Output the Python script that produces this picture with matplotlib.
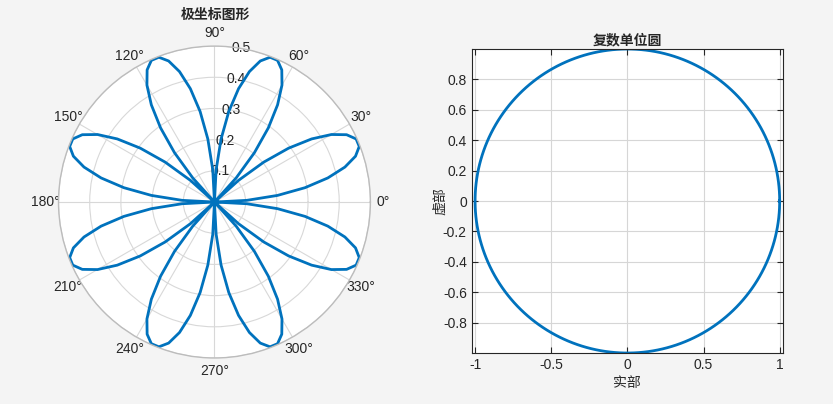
"""
Polar rose and complex unit circle, side by side.
"""

import numpy as np
import matplotlib.pyplot as plt

plt.rcParams['font.family'] = ['Liberation Sans', 'Noto Sans CJK SC', 'DejaVu Sans']
plt.rcParams['axes.unicode_minus'] = False

# left panel: 8-petal rose, coarse sampling as in the source
rose_samples = 121
rose_amp = 0.5
rose_k = 4
r_ticks = [0.1, 0.2, 0.3, 0.4, 0.5]
theta_ticks = [0, 30, 60, 90, 120, 150, 180, 210, 240, 270, 300, 330]

# right panel: unit circle exp(i*t)
circle_samples = 400
x_ticks = [-1, -0.5, 0, 0.5, 1]
x_labels = ['-1', '-0.5', '0', '0.5', '1']
y_ticks = [-0.8, -0.6, -0.4, -0.2, 0, 0.2, 0.4, 0.6, 0.8]
y_labels = ['-0.8', '-0.6', '-0.4', '-0.2', '0', '0.2', '0.4', '0.6', '0.8']

titles = ['极坐标图形', '复数单位圆']
x_label = '实部'
y_label = '虚部'

line_color = '#0072BD'
text_color = '#262626'
bg = '#f4f4f4'

theta = np.linspace(0, 2 * np.pi, rose_samples)
rho = rose_amp * np.abs(np.sin(rose_k * theta))
t = np.linspace(0, 2 * np.pi, circle_samples)
z = np.exp(1j * t)

fig = plt.figure(figsize=(8.33, 4.04), dpi=100, facecolor=bg)

# polar plot
ax1 = fig.add_axes([0.0702, 0.1139, 0.3745, 0.772], projection='polar')
ax1.plot(theta, rho, color=line_color, linewidth=2.0)
ax1.set_ylim(0, 0.5)
ax1.set_yticks(r_ticks)
ax1.set_yticklabels([str(v) for v in r_ticks])
ax1.set_rlabel_position(80)
for lab in ax1.get_yticklabels():
    lab.set_horizontalalignment('center')
    lab.set_verticalalignment('center')
ax1.set_xticks(np.deg2rad(theta_ticks))
ax1.set_xticklabels([f'{d}°' for d in theta_ticks])
ax1.tick_params(axis='x', pad=-1, labelsize=10, colors=text_color)
ax1.tick_params(axis='y', labelsize=10, colors=text_color)
ax1.grid(True, color='#d8d8d8', linewidth=0.8)
ax1.spines['polar'].set_color('#bcbcbc')
ax1.spines['polar'].set_linewidth(1.0)
ax1.set_facecolor('white')
fig.text(215 / 833, 1 - 15 / 404, titles[0], fontsize=10, fontweight='bold',
         color=text_color, ha='center', va='center')

# complex unit circle
ax2 = fig.add_axes([0.5663, 0.1262, 0.3737, 0.7525])
ax2.plot(z.real, z.imag, color=line_color, linewidth=2.0)
ax2.set_xlim(-1.022, 1.022)
ax2.set_ylim(-1, 1)
ax2.set_xticks(x_ticks)
ax2.set_xticklabels(x_labels)
ax2.set_yticks(y_ticks)
ax2.set_yticklabels(y_labels)
ax2.tick_params(direction='in', top=True, right=True, length=4, width=0.8,
                labelsize=10, colors=text_color)
ax2.grid(True, color='#d6d6d6', linewidth=0.8)
ax2.set_axisbelow(True)
for s in ax2.spines.values():
    s.set_color(text_color)
    s.set_linewidth(0.8)
ax2.set_facecolor('white')
ax2.set_title(titles[1], fontsize=10, fontweight='bold', color=text_color, pad=3)
ax2.set_xlabel(x_label, fontsize=10, color=text_color, labelpad=3)
ax2.set_ylabel(y_label, fontsize=10, color=text_color, labelpad=-3)

fig.savefig('out.png', dpi=100, facecolor=bg)
